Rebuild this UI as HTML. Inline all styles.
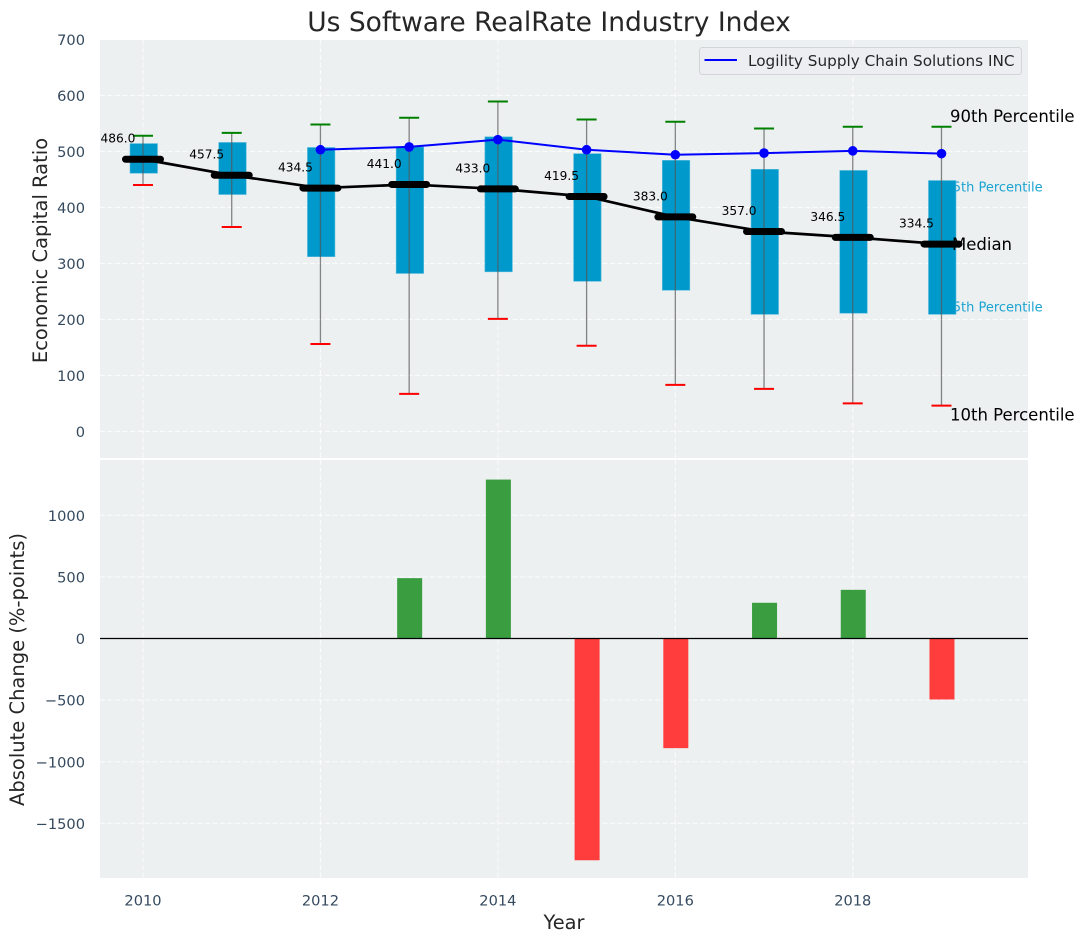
<!DOCTYPE html>
<html>
<head>
<meta charset="utf-8">
<title>Us Software RealRate Industry Index</title>
<style>
html,body{margin:0;padding:0;background:#fff;}
svg{display:block;}
text{font-family:"DejaVu Sans","Liberation Sans",sans-serif;}
</style>
</head>
<body>
<svg id="chart" xmlns="http://www.w3.org/2000/svg" width="1085" height="942" viewBox="0 0 1085 942"></svg>
<script>
const years = [2010,2011,2012,2013,2014,2015,2016,2017,2018,2019];
const p90 = [528,533,548,560,589,557,553,541,544,544];
const q3 = [514,516,507,508,526,496,484,468,466,448];
const medians = [486.0,457.5,434.5,441.0,433.0,419.5,383.0,357.0,346.5,334.5];
const q1 = [461,423,312,282,285,268,252,209,211,209];
const p10 = [440,365,156,67,201,153,83,76,50,46];
const companyYears = [2012,2013,2014,2015,2016,2017,2018,2019];
const companyValues = [503,508,521,503,494,497,501,496];
const changeYears = [2013,2014,2015,2016,2017,2018,2019];
const changeValues = [490,1290,-1800,-890,290,395,-495];
const xTicks = [2010,2012,2014,2016,2018];
const topTicks = [0,100,200,300,400,500,600,700];
const bottomTicks = [-1500,-1000,-500,0,500,1000];

const NS = 'http://www.w3.org/2000/svg';
const svg = document.getElementById('chart');
const L = 100, R = 1028, T1 = 40, B1 = 458, T2 = 460, B2 = 878;
function xS(v){ return 143 + (v - 2010) * 88.72; }
function yTop(v){ return 431.4 - v * 0.56; }
function yBot(v){ return 638.5 - v * 0.1232; }
function mk(tag, attrs, content){
  const e = document.createElementNS(NS, tag);
  for (const k in attrs) e.setAttribute(k, attrs[k]);
  if (content !== undefined) e.textContent = content;
  svg.appendChild(e);
  return e;
}
function fmtTick(v){ return v < 0 ? '\u2212' + Math.abs(v) : String(v); }
let el;

// Axes backgrounds
el = mk('rect', {x:L, y:T1, width:R-L, height:B1-T1, fill:'#ecf0f1'});


el = mk('rect', {x:L, y:T2, width:R-L, height:B2-T2, fill:'#ecf0f1'});



// Grid and ticks
xTicks.forEach(function(t){
  el = mk('line', {x1:xS(t), x2:xS(t), y1:T1, y2:B1, stroke:'#fff', 'stroke-width':1.1, 'stroke-dasharray':'5 2.5', opacity:0.75});
  
  
  el = mk('line', {x1:xS(t), x2:xS(t), y1:T2, y2:B2, stroke:'#fff', 'stroke-width':1.1, 'stroke-dasharray':'5 2.5', opacity:0.75});
  
  
  el = mk('text', {x:xS(t), y:905.5, 'text-anchor':'middle', 'font-size':14.6, fill:'#34495e'}, String(t));
  
  
});
topTicks.forEach(function(t){
  el = mk('line', {x1:L, x2:R, y1:yTop(t), y2:yTop(t), stroke:'#fff', 'stroke-width':1.1, 'stroke-dasharray':'5 2.5', opacity:0.75});
  
  
  el = mk('text', {x:85, y:yTop(t)+5.6, 'text-anchor':'end', 'font-size':14.6, fill:'#34495e'}, fmtTick(t));
  
  
});
bottomTicks.forEach(function(t){
  el = mk('line', {x1:L, x2:R, y1:yBot(t), y2:yBot(t), stroke:'#fff', 'stroke-width':1.1, 'stroke-dasharray':'5 2.5', opacity:0.75});
  
  
  el = mk('text', {x:85, y:yBot(t)+5.6, 'text-anchor':'end', 'font-size':14.6, fill:'#34495e'}, fmtTick(t));
  
  
});

// Percentile labels drawn under the boxes
const lastX = xS(years[years.length-1]);
el = mk('text', {x:lastX+3, y:yTop(q3[9])+11, 'font-size':13, fill:'#1aa3d0'}, '75th Percentile');


el = mk('text', {x:lastX+3, y:yTop(q1[9])-3, 'font-size':13, fill:'#1aa3d0'}, '25th Percentile');



// Boxes
years.forEach(function(y, i){
  const x = xS(y);
  el = mk('rect', {x:x-13, y:yTop(q3[i]), width:27.5, height:yTop(q1[i])-yTop(q3[i]), fill:'#0099cc', stroke:'#5cbcdc', 'stroke-width':0.6});
  
  
});
// Whiskers and caps
years.forEach(function(y, i){
  const x = xS(y);
  el = mk('line', {x1:x, x2:x, y1:yTop(p90[i]), y2:yTop(p10[i]), stroke:'#555', 'stroke-width':1.3, opacity:0.7});
  
  
  el = mk('line', {x1:x-10, x2:x+10, y1:yTop(p90[i]), y2:yTop(p90[i]), stroke:'#008000', 'stroke-width':2});
  
  
  el = mk('line', {x1:x-10, x2:x+10, y1:yTop(p10[i]), y2:yTop(p10[i]), stroke:'#ff0000', 'stroke-width':2});
  
  
});

// Text labels at right of the last year
el = mk('text', {x:950, y:yTop(p90[9])-5, 'font-size':16.5, fill:'#000'}, '90th Percentile');


el = mk('text', {x:950, y:yTop(p10[9])+15, 'font-size':16.5, fill:'#000'}, '10th Percentile');


el = mk('text', {x:952, y:yTop(medians[9])+6, 'font-size':16.5, fill:'#000'}, 'Median');



// Median line and markers
el = mk('polyline', {points:years.map(function(y,i){return xS(y)+','+yTop(medians[i]);}).join(' '), fill:'none', stroke:'#000', 'stroke-width':2.7});


years.forEach(function(y, i){
  const x = xS(y);
  el = mk('line', {x1:x-17.5, x2:x+17.5, y1:yTop(medians[i]), y2:yTop(medians[i]), stroke:'#000', 'stroke-width':7, 'stroke-linecap':'round'});
  
  
  el = mk('text', {x:x-25, y:yTop(medians[i])-16.5, 'text-anchor':'middle', 'font-size':12.2, fill:'#000'}, medians[i].toFixed(1));
  
  
});

// Company line
el = mk('polyline', {points:companyYears.map(function(y,i){return xS(y)+','+yTop(companyValues[i]);}).join(' '), fill:'none', stroke:'#0000ff', 'stroke-width':2});


companyYears.forEach(function(y, i){
  el = mk('circle', {cx:xS(y), cy:yTop(companyValues[i]), r:4.8, fill:'#0000ff'});
  
  
});

// Change bars
changeYears.forEach(function(y, i){
  const v = changeValues[i];
  const y0 = yBot(Math.max(v, 0));
  const h = Math.abs(yBot(v) - yBot(0));
  el = mk('rect', {x:xS(y)-12, y:y0, width:25, height:h, fill: v >= 0 ? '#3a9d3f' : '#ff3d3d'});
  
  
});
el = mk('line', {x1:L, x2:R, y1:yBot(0), y2:yBot(0), stroke:'#000', 'stroke-width':1.2});



// Legend
el = mk('rect', {x:699.5, y:47.5, width:322, height:27, rx:3, fill:'#eceef2', stroke:'#d2d4d8', 'stroke-width':1});


el = mk('line', {x1:704.5, x2:737, y1:60, y2:60, stroke:'#0000ff', 'stroke-width':2});


el = mk('text', {x:748, y:66, 'font-size':15.25, fill:'#262626'}, 'Logility Supply Chain Solutions INC');



// Titles
el = mk('text', {x:549, y:31, 'text-anchor':'middle', 'font-size':26.5, fill:'#262626'}, 'Us Software RealRate Industry Index');


el = mk('text', {x:564, y:929, 'text-anchor':'middle', 'font-size':19.4, fill:'#262626'}, 'Year');


el = mk('text', {x:0, y:0, transform:'translate(47,250.5) rotate(-90)', 'text-anchor':'middle', 'font-size':19.5, fill:'#262626'}, 'Economic Capital Ratio');


el = mk('text', {x:0, y:0, transform:'translate(24,669.5) rotate(-90)', 'text-anchor':'middle', 'font-size':19.5, fill:'#262626'}, 'Absolute Change (%-points)');


</script>
</body>
</html>
